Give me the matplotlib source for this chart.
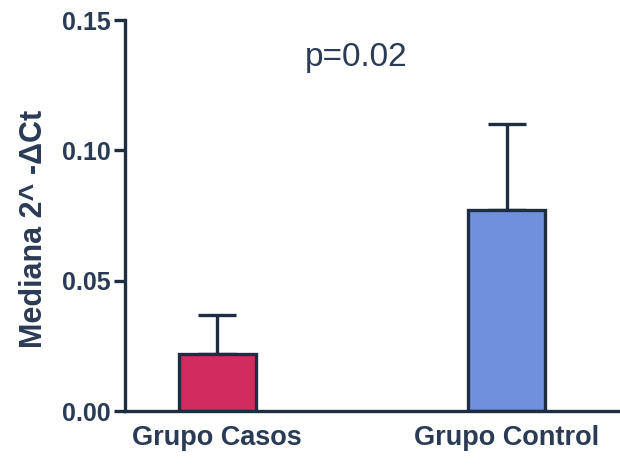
import matplotlib
matplotlib.use("Agg")
import matplotlib.pyplot as plt

# Data
groups = ["Grupo Casos", "Grupo Control"]
medians = [0.022, 0.077]
upper_err = [0.015, 0.033]
fill_colors = ["#d22b5e", "#6f90dc"]
y_ticks = [0.00, 0.05, 0.10, 0.15]
y_tick_labels = ["0.00", "0.05", "0.10", "0.15"]
p_text = "p=0.02"

ink = "#1f2d42"
text_col = "#2b3a55"

plt.rcParams["font.family"] = ["Liberation Sans", "DejaVu Sans"]

fig = plt.figure(figsize=(6.2, 4.66), dpi=100)
ax = fig.add_axes([0.2016, 0.118, 0.80, 0.839])

x = list(range(len(groups)))
lw = 2.4
ax.bar(x, medians, width=0.266, color=fill_colors, edgecolor=ink,
       linewidth=lw, zorder=2)
ax.errorbar(x, medians, yerr=[[0] * len(x), upper_err], fmt="none",
            ecolor=ink, elinewidth=lw, capsize=14, capthick=lw, zorder=1)

ax.set_xlim(-0.318, 1.395)
ax.set_ylim(0, 0.15)
ax.set_yticks(y_ticks)
ax.set_yticklabels(y_tick_labels)
ax.set_xticks(x)
ax.set_xticklabels(groups)

for s in ["top", "right"]:
    ax.spines[s].set_visible(False)
for s in ["left", "bottom"]:
    ax.spines[s].set_linewidth(lw)
    ax.spines[s].set_color(ink)

ax.tick_params(axis="y", length=8, width=lw, color=ink, labelsize=18,
               labelcolor=text_col, pad=2)
ax.tick_params(axis="x", length=0, labelsize=19.5, labelcolor=text_col, pad=10)
for lab in ax.get_yticklabels() + ax.get_xticklabels():
    lab.set_fontweight("bold")

ax.set_ylabel("Mediana 2^ -ΔCt", fontsize=22, fontweight="bold",
              color=text_col)
ax.yaxis.set_label_coords(-0.153, 0.465)

ax.text(0.48, 0.1355, p_text, fontsize=24, color=text_col,
        ha="center", va="center")

fig.savefig("out.png", dpi=100)
